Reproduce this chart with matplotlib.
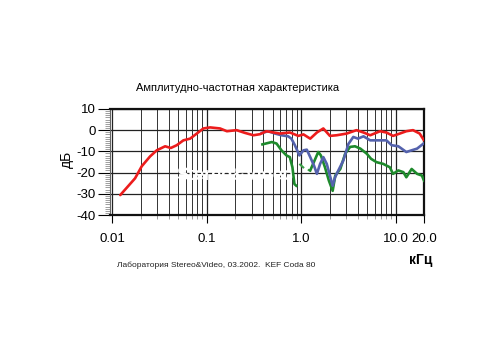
import numpy as np
import matplotlib
matplotlib.use('Agg')
import matplotlib.pyplot as plt
from matplotlib.ticker import FixedLocator, LogLocator, NullFormatter

plt.rcParams['font.family'] = ['Liberation Sans', 'DejaVu Sans']

# red - axis response
red_f = [0.0122, 0.0175, 0.0206, 0.0252, 0.0297, 0.0364, 0.0418, 0.0483, 0.0568, 0.0669,
         0.0787, 0.0925, 0.109, 0.139, 0.164, 0.208, 0.255, 0.313, 0.367, 0.43, 0.596,
         0.763, 0.935, 1.06, 1.25, 1.47, 1.72, 2.02, 2.38, 3.04, 3.86, 4.58, 5.39, 6.85,
         8.0, 9.4, 11.1, 13.0, 15.3, 18.0, 20.0]
red_db = [-30.6, -22.7, -17.0, -12.4, -9.5, -7.6, -8.4, -7.1, -4.8, -4.0,
          -1.6, 0.8, 1.3, 0.8, -0.5, 0.0, -1.3, -2.4, -1.9, -0.5, -1.6,
          -1.1, -2.7, -2.0, -4.0, -1.1, 0.8, -2.7, -2.4, -1.6, 0.0, -1.1, -2.4, -0.5,
          -1.1, -2.7, -1.6, -0.5, 0.0, -1.6, -4.8]

# blue
blue_f = [0.385, 0.45, 0.53, 0.62, 0.73, 0.79, 0.86, 0.96, 1.06, 1.15, 1.25, 1.37, 1.47,
          1.59, 1.72, 1.87, 2.02, 2.16, 2.29, 2.48, 2.8, 3.17, 3.57, 4.0, 4.58, 5.39,
          6.3, 8.0, 9.1, 10.7, 13.0, 14.8, 16.9, 19.8]
blue_db = [-1.3, -0.5, -1.6, -2.4, -2.9, -4.0, -7.1, -11.9, -9.5, -9.2, -12.7, -16.7, -20.6,
           -15.9, -12.7, -15.9, -21.4, -26.2, -22.2, -19.0, -14.3, -6.5, -3.2, -4.0, -2.9, -4.8,
           -4.8, -4.8, -7.1, -7.6, -10.3, -9.5, -8.7, -6.3]

# green (solid parts + dashed piece)
green1_f = [0.39, 0.49, 0.55, 0.62, 0.70, 0.76, 0.81, 0.85, 0.89]
green1_db = [-6.7, -5.6, -6.3, -9.5, -11.9, -12.7, -17.5, -25.4, -26.2]
green_dash_f = [0.96, 1.1, 1.25]
green_dash_db = [-15.9, -18.3, -19.0]
green2_f = [1.25, 1.52, 1.62, 1.79, 1.97, 2.16, 2.3, 2.6, 2.93, 3.3, 3.72, 4.24, 4.96,
            5.5, 6.3, 7.4, 8.7, 9.4, 10.7, 12.1, 13.0, 14.8, 16.9, 19.0, 20.0]
green2_db = [-19.0, -10.3, -11.9, -17.5, -23.8, -28.6, -21.4, -18.3, -11.1, -7.9, -7.6, -8.7, -11.1,
             -13.5, -15.1, -15.9, -17.5, -20.6, -19.0, -19.8, -22.2, -18.3, -20.6, -21.4, -23.8]

x_ticks = [0.01, 0.1, 1.0, 10.0, 20.0]
x_labels = ['0.01', '0.1', '1.0', '10.0', '20.0']
y_ticks = [10, 0, -10, -20, -30, -40]

fig = plt.figure(figsize=(5, 3.5), dpi=100)
ax = fig.add_axes([0.22, 0.3857, 0.628, 0.303])

ax.set_xscale('log')
ax.set_xlim(0.0095, 20)
ax.set_ylim(-40, 10)

# сетка
ax.xaxis.set_major_locator(FixedLocator(x_ticks))
ax.set_xticklabels(x_labels, fontsize=9.5)
ax.xaxis.set_minor_locator(LogLocator(base=10, subs=np.arange(2, 10)))
ax.xaxis.set_minor_formatter(NullFormatter())
ax.set_yticks(y_ticks)
ax.set_yticklabels([str(v) for v in y_ticks], fontsize=9.5)
ax.set_yticks(np.arange(-40, 11, 1), minor=True)
ax.grid(True, which='major', axis='both', color='#222222', lw=0.9)
ax.grid(True, which='minor', axis='x', color='#333333', lw=0.7)
ax.tick_params(axis='x', which='major', length=6, width=0.8, pad=7)
ax.tick_params(axis='x', which='minor', length=3, width=0.6, color='#888888')
ax.tick_params(axis='y', which='major', length=9, width=0.8, pad=1)
ax.tick_params(axis='y', which='minor', length=3.5, width=0.5, color='#777777')
for s in ['top', 'right', 'bottom']:
    ax.spines[s].set_linewidth(1.6)
    ax.spines[s].set_color('#111111')
ax.spines['left'].set_linewidth(0.8)
ax.spines['left'].set_color('#666666')

# водяной знак
ax.text(0.2, -21.5, 'Stereo&Video', color='white', fontsize=13, fontweight='bold',
        ha='center', va='center', zorder=2)

ax.plot(red_f, red_db, color='#ec1c1c', lw=1.9, zorder=5, solid_capstyle='round')
ax.plot(blue_f, blue_db, color='#5462ad', lw=1.9, zorder=4)
ax.plot(green1_f, green1_db, color='#1e8a2c', lw=1.9, zorder=3)
ax.plot(green_dash_f, green_dash_db, color='#3aa046', lw=1.5, ls=(0, (3, 2)), zorder=3)
ax.plot(green2_f, green2_db, color='#1e8a2c', lw=1.9, zorder=3)

fig.text(0.475, 0.748, 'Амплитудно-частотная характеристика', fontsize=8, ha='center', va='center')
fig.text(0.134, 0.545, 'дБ', fontsize=10, rotation=90, ha='center', va='center')
fig.text(0.842, 0.257, 'кГц', fontsize=10, fontweight='bold', ha='center', va='center')
fig.text(0.433, 0.243, 'Лаборатория Stereo&Video, 03.2002.  KEF Coda 80', fontsize=6,
         ha='center', va='center', color='#222222')

fig.savefig('out.png', dpi=100)
